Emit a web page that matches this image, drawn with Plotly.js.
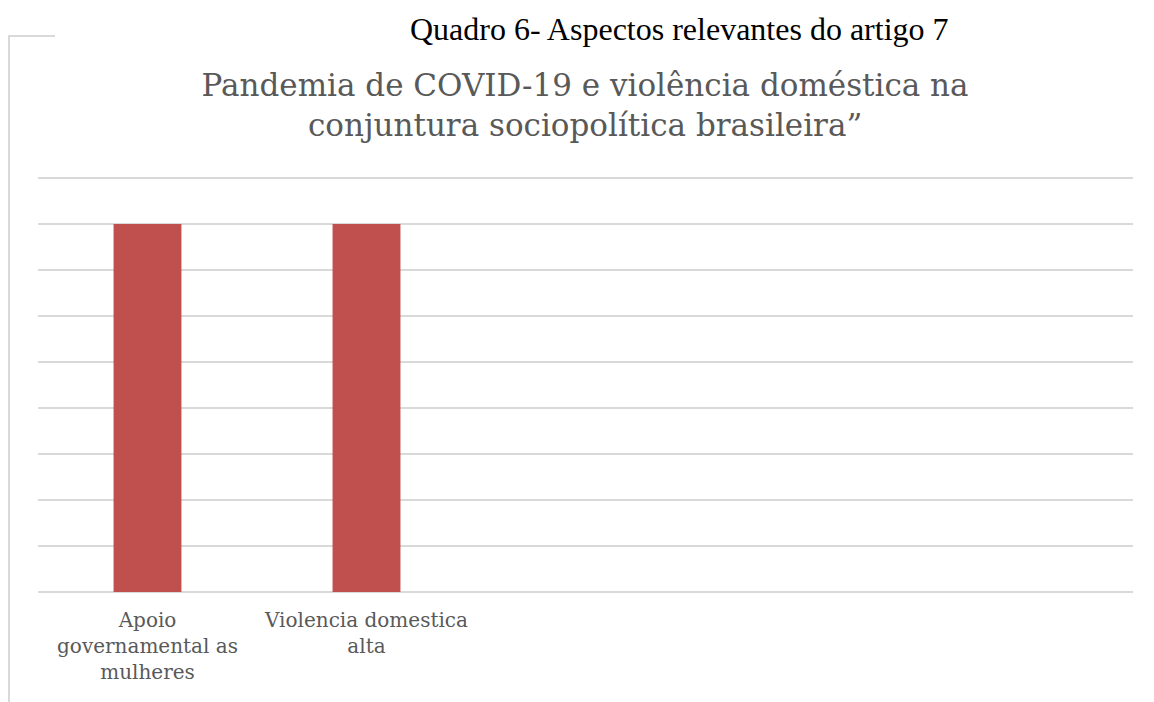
<!DOCTYPE html>
<html>
<head>
<meta charset="utf-8">
<script src="https://cdn.plot.ly/plotly-3.0.1.min.js"></script>
<style>
html,body{margin:0;padding:0;background:#fff;}
#chart{width:1154px;height:702px;}
</style>
</head>
<body>
<div id="chart"></div>
<script>
const categories = ["Apoio<br>governamental as<br>mulheres", "Violencia domestica<br>alta"];
const positions = [0, 1];
const values = [8, 8];
const headerText = "Quadro 6- Aspectos relevantes do artigo 7";
const chartTitle = "Pandemia de COVID-19 e violência doméstica na<br>conjuntura sociopolítica brasileira”";

const trace = {
  type: "bar",
  x: positions,
  y: values,
  width: 0.31,
  marker: {color: "#c0504d"},
  hoverinfo: "none"
};

const layout = {
  width: 1154,
  height: 702,
  margin: {l: 38, r: 21, t: 173, b: 110},
  paper_bgcolor: "#ffffff",
  plot_bgcolor: "#ffffff",
  showlegend: false,
  font: {family: "DejaVu Serif", color: "#595959"},
  title: {
    text: chartTitle,
    font: {family: "DejaVu Serif", size: 31, color: "#595959"},
    x: 0.507, xanchor: "center",
    y: 0.863, yanchor: "middle"
  },
  xaxis: {
    range: [-0.5, 4.5],
    tickmode: "array",
    tickvals: positions,
    ticktext: categories,
    ticks: "",
    showgrid: false,
    zeroline: false,
    showline: false,
    ticklabelstandoff: 14,
    tickfont: {family: "DejaVu Serif", size: 20, color: "#595959"},
    fixedrange: true
  },
  yaxis: {
    range: [0, 9.109],
    dtick: 1,
    showticklabels: false,
    showgrid: true,
    gridcolor: "#d9d9d9",
    gridwidth: 1.5,
    zeroline: true,
    zerolinecolor: "#d9d9d9",
    zerolinewidth: 1.5,
    ticks: "",
    fixedrange: true
  },
  annotations: [{
    text: headerText,
    xref: "paper", yref: "paper",
    x: (679 - 38) / 1095, y: (592 - 29) / 419,
    xanchor: "center", yanchor: "middle",
    showarrow: false,
    font: {family: "Liberation Serif", size: 32, color: "#000000"}
  }],
  shapes: [
    {type: "line", xref: "paper", yref: "paper",
     x0: (9 - 38) / 1095, x1: (9 - 38) / 1095, y0: (592 - 36) / 419, y1: (592 - 705) / 419,
     line: {color: "#d9d9d9", width: 2}},
    {type: "line", xref: "paper", yref: "paper",
     x0: (8 - 38) / 1095, x1: (55 - 38) / 1095, y0: (592 - 36) / 419, y1: (592 - 36) / 419,
     line: {color: "#d9d9d9", width: 2}}
  ]
};

Plotly.newPlot("chart", [trace], layout, {displayModeBar: false, staticPlot: true});
</script>
</body>
</html>
